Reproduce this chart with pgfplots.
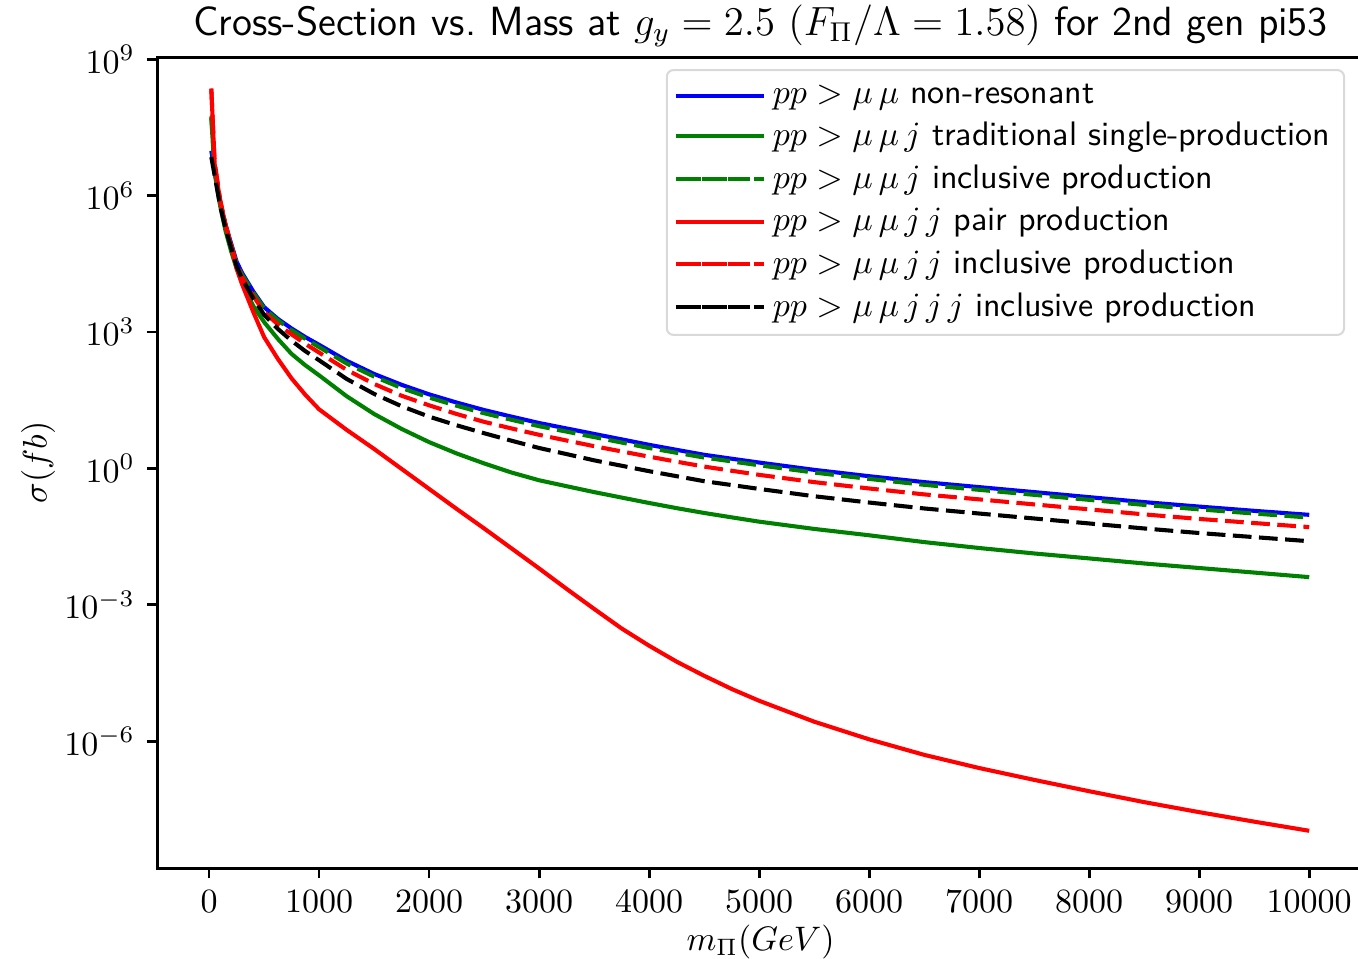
\documentclass[border=0pt]{standalone}
\usepackage{pgfplots}
\pgfplotsset{compat=1.18}
\usetikzlibrary{calc}

\definecolor{mplblue}{RGB}{0,0,255}
\definecolor{mplgreen}{RGB}{0,128,0}
\definecolor{mplred}{RGB}{255,0,0}

% sigma (fb) against m_Pi (GeV)
\pgfplotstableread{
m      nonres   single   incl1    pair     incl2    incl3
20     9.77e6   5.25e7   5.62e7   2.24e8   2.29e8   7.08e6
50     3.55e6   3.16e6   3.98e6   5.01e6   5.62e6   2.82e6
100    7.08e5   6.03e5   7.08e5   7.76e5   8.32e5   6.03e5
150    2.24e5   1.66e5   2.19e5   2.24e5   2.24e5   1.86e5
200    8.91e4   6.03e4   8.51e4   7.94e4   8.51e4   7.24e4
250    3.55e4   2.51e4   3.16e4   2.51e4   2.95e4   2.82e4
300    2.00e4   1.20e4   1.82e4   1.12e4   1.58e4   1.48e4
400    7.94e3   3.80e3   7.41e3   2.82e3   6.31e3   5.62e3
500    3.55e3   1.66e3   3.31e3   776      2.75e3   2.40e3
625    1.95e3   708      1.82e3   257      1.48e3   1.175e3
750    1.20e3   331      1.10e3   95.5     891      646
875    776      186      708      41.7     550      380
1000   525      112      468      20.0     355      240
1250   234      38.9     204      7.08     148      93.3
1500   120      15.8     105      2.69     72.4     43.7
1750   69.2     7.41     58.9     0.977    39.8     23.4
2000   42.7     3.80     36.3     0.355    24.5     13.8
2250   28.2     2.14     24.0     0.129    15.8     8.91
2500   19.3     1.29     16.4     0.0479   10.6     5.96
2750   13.8     0.813    11.75    0.0174   7.59     4.07
3000   10.0     0.550    8.51     6.31e-3  5.50     2.82
3250   7.59     0.407    6.46     2.24e-3  4.12     2.07
3500   5.75     0.302    4.90     8.13e-4  3.09     1.51
3750   4.37     0.229    3.72     3.02e-4  2.37     1.148
4000   3.31     0.174    2.82     1.26e-4  1.82     0.871
4250   2.57     0.134    2.21     5.62e-5  1.41     0.676
4500   2.00     0.105    1.74     2.75e-5  1.10     0.525
4750   1.64     0.0841   1.43     1.41e-5  0.891    0.432
5000   1.35     0.0676   1.175    7.76e-6  0.724    0.355
5500   0.933    0.0468   0.813    2.69e-6  0.501    0.245
6000   0.676    0.0339   0.589    1.10e-6  0.363    0.178
6500   0.501    0.0240   0.437    5.01e-7  0.269    0.132
7000   0.389    0.0178   0.339    2.57e-7  0.209    0.102
7500   0.302    0.0135   0.263    1.41e-7  0.162    0.0794
8000   0.234    0.0105   0.204    7.94e-8  0.126    0.0617
8500   0.182    8.13e-3  0.158    4.57e-8  0.0977   0.0479
9000   0.145    6.46e-3  0.126    2.75e-8  0.0776   0.0380
9500   0.117    5.13e-3  0.102    1.70e-8  0.0631   0.0309
10000  0.0955   4.07e-3  0.0832   1.07e-8  0.0513   0.0251
}\xsec

\begin{document}
\begin{tikzpicture}
\begin{axis}[
  name=main,
  scale only axis,
  width=355pt, height=238.5pt,
  ymode=log,
  xmin=-473, xmax=10499,
  ymin=1.62e-9, ymax=1.12e9,
  xtick={0,1000,...,10000},
  ytick={1e-6,1e-3,1,1e3,1e6,1e9},
  yminorticks=false,
  scaled x ticks=false,
  xticklabel style={/pgf/number format/.cd,fixed,1000 sep={}},
  tick align=outside,
  xtick pos=left, ytick pos=left,
  major tick length=3pt,
  tick style={black, line width=0.8pt},
  axis line style={line width=0.9pt},
  tick label style={font=\normalsize},
  xlabel={$m_{\Pi}(GeV)$},
  xlabel style={at={(axis description cs:0.5,-0.0913)}, anchor=center},
  ylabel={$\sigma(fb)$},
  ylabel style={at={(axis description cs:-0.0985,0.5)}, anchor=center},
  title={\textsf{Cross-Section vs.\ Mass at} $g_y = 2.5$ $(F_{\Pi}/\Lambda = 1.58)$ \textsf{for 2nd gen pi53}},
  title style={font=\large, at={(axis description cs:0.5,1)}, anchor=base, yshift=0.5pt},
  legend cell align=left,
  legend style={at={(rel axis cs:1,1)}, anchor=north east,
    xshift=-5.6pt, yshift=-3.5pt,
    draw=black!15, rounded corners=2pt, line width=0.6pt,
    font=\normalsize, row sep=0.1pt, inner sep=2pt},
  legend image code/.code={\draw[#1] (2pt,0pt) -- (22pt,0pt); \path (0pt,0pt) -- (26pt,0pt);},
  every axis plot/.append style={line width=1.2pt},
]
\addplot[mplblue] table[x=m, y=nonres] {\xsec};
\addlegendentry{$pp > \mu\,\mu$ \textsf{non-resonant}}
\addplot[mplgreen] table[x=m, y=single] {\xsec};
\addlegendentry{$pp > \mu\,\mu\,j$ \textsf{traditional single-production}}
\addplot[mplgreen, dash pattern=on 5.5pt off 2.2pt] table[x=m, y=incl1] {\xsec};
\addlegendentry{$pp > \mu\,\mu\,j$ \textsf{inclusive production}}
\addplot[mplred] table[x=m, y=pair] {\xsec};
\addlegendentry{$pp > \mu\,\mu\,j\,j$ \textsf{pair production}}
\addplot[mplred, dash pattern=on 5.5pt off 2.2pt] table[x=m, y=incl2] {\xsec};
\addlegendentry{$pp > \mu\,\mu\,j\,j$ \textsf{inclusive production}}
\addplot[black, dash pattern=on 5.5pt off 2.2pt] table[x=m, y=incl3] {\xsec};
\addlegendentry{$pp > \mu\,\mu\,j\,j\,j$ \textsf{inclusive production}}
\end{axis}
\pgfresetboundingbox
\path ($(main.south west)+(-46.2pt,-26.5pt)$) rectangle ($(main.north east)+(-1.8pt,16.8pt)$);
\end{tikzpicture}
\end{document}
